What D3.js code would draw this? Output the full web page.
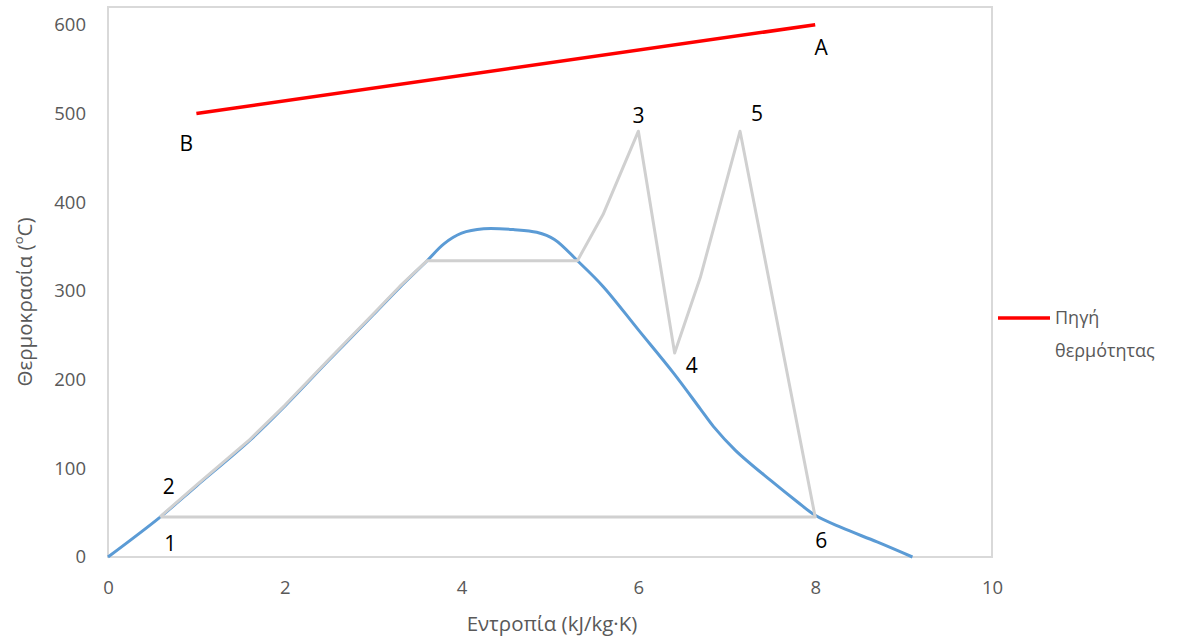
<!DOCTYPE html>
<html>
<head>
<meta charset="utf-8">
<script src="https://cdn.jsdelivr.net/npm/d3@7"></script>
<style>
  body { margin: 0; background: #fff; }
  svg { display: block; }
</style>
</head>
<body>
<svg id="chart" width="1182" height="639"></svg>
<script>
// ---------- DATA ----------
const xTicks = [0, 2, 4, 6, 8, 10];
const yTicks = [0, 100, 200, 300, 400, 500, 600];

// Saturation dome (blue)
const domeS = [0, 0.59, 1.0, 1.61, 2.0, 2.5, 3.0, 3.3, 3.61, 3.8, 4.0, 4.25, 4.6, 4.85, 5.05, 5.31, 5.6, 6.0, 6.4, 6.7, 6.85, 7.1, 7.5, 7.8, 8.0, 8.3, 8.7, 9.1];
const domeT = [0, 45, 80, 132, 170, 222, 273, 304, 334, 353, 365, 370, 369, 366, 358, 334, 305, 256, 207, 167, 147, 120, 86, 62, 47, 33, 17, 0];

// Cycle (gray)
const cycleS = [0.59, 0.62, 1.0, 1.61, 2.0, 2.5, 3.0, 3.3, 3.61, 5.31, 5.6, 6.0, 6.41, 6.70, 7.15, 8.0, 0.59];
const cycleT = [45, 48, 81, 133, 171, 223, 274, 305, 334, 334, 386, 480, 230, 315, 480, 45, 45];

// Heat source (red)
const sourceS = [1, 8];
const sourceT = [500, 600];

// State point labels
const stateNames = ["1", "2", "3", "4", "5", "6", "A", "B"];
const stateS = [0.59, 0.62, 6.0, 6.41, 7.15, 8.0, 8, 1];
const stateT = [45, 50, 480, 230, 480, 45, 600, 500];

const legendLabel = ["Πηγή", "θερμότητας"];
const xTitle = "Εντροπία (kJ/kg·K)";
const yTitle = "Θερμοκρασία (";

// ---------- LAYOUT ----------
const svg = d3.select("#chart");
const pLeft = 108, pRight = 992, pTop = 7, pBottom = 557;
const x = d3.scaleLinear().domain([0, 10]).range([pLeft, pRight]);
const y = d3.scaleLinear().domain([0, 620]).range([pBottom, pTop]);
const font = "'Open Sans', 'Noto Sans', sans-serif";
const grayText = "#595959";

// plot area border
svg.append("rect")
  .attr("x", pLeft).attr("y", pTop)
  .attr("width", pRight - pLeft).attr("height", pBottom - pTop)
  .attr("fill", "none").attr("stroke", "#D9D9D9").attr("stroke-width", 2);

// axes (labels only)
const xAxis = d3.axisBottom(x).tickValues(xTicks).tickSize(0).tickPadding(24);
const gx = svg.append("g").attr("transform", `translate(0,${pBottom})`).call(xAxis);
gx.select(".domain").remove();
gx.selectAll("text").attr("font-family", font).attr("font-size", 18.5).attr("fill", grayText);

const yAxis = d3.axisLeft(y).tickValues(yTicks).tickSize(0).tickPadding(22);
const gy = svg.append("g").attr("transform", `translate(${pLeft},0)`).call(yAxis);
gy.select(".domain").remove();
gy.selectAll("text").attr("font-family", font).attr("font-size", 18.5).attr("fill", grayText);

// axis titles
svg.append("text")
  .attr("x", 552).attr("y", 631)
  .attr("text-anchor", "middle")
  .attr("font-family", font).attr("font-size", 20.5).attr("fill", grayText)
  .text(xTitle);

const yt = svg.append("text")
  .attr("transform", "translate(32,302) rotate(-90)")
  .attr("text-anchor", "middle")
  .attr("font-family", font).attr("font-size", 20.5).attr("fill", grayText);
yt.append("tspan").text(yTitle);
yt.append("tspan").attr("baseline-shift", "super").attr("font-size", 13).text("o");
yt.append("tspan").text("C)");

// lines
const line = d3.line().x(d => x(d[0])).y(d => y(d[1]));
const smooth = d3.line().x(d => x(d[0])).y(d => y(d[1])).curve(d3.curveCatmullRom.alpha(0.5));

svg.append("path")
  .datum(domeS.map((s, i) => [s, domeT[i]]))
  .attr("d", smooth)
  .attr("fill", "none").attr("stroke", "#5B9BD5").attr("stroke-width", 3)
  .attr("stroke-linejoin", "round");

svg.append("path")
  .datum(cycleS.map((s, i) => [s, cycleT[i]]))
  .attr("d", line)
  .attr("fill", "none").attr("stroke", "#D0D0D0").attr("stroke-width", 3)
  .attr("stroke-linejoin", "round");

svg.append("path")
  .datum(sourceS.map((s, i) => [s, sourceT[i]]))
  .attr("d", line)
  .attr("fill", "none").attr("stroke", "#FF0000").attr("stroke-width", 3.5);

// state labels (pixel offsets relative to the point)
const offsets = {
  "1": [10, 34], "2": [6, -19], "3": [0, -8], "4": [17, 20],
  "5": [17, -10], "6": [6, 31], "A": [6, 30], "B": [-10, 38]
};
svg.selectAll("text.state")
  .data(stateNames.map((n, i) => ({ n, s: stateS[i], t: stateT[i] })))
  .enter().append("text")
  .attr("class", "state")
  .attr("x", d => x(d.s) + offsets[d.n][0])
  .attr("y", d => y(d.t) + offsets[d.n][1])
  .attr("text-anchor", "middle")
  .attr("font-family", font).attr("font-size", 21).attr("fill", "#000")
  .text(d => d.n);

// legend
svg.append("line")
  .attr("x1", 998).attr("x2", 1050).attr("y1", 318).attr("y2", 318)
  .attr("stroke", "#FF0000").attr("stroke-width", 3.5);
svg.selectAll("text.leg")
  .data(legendLabel)
  .enter().append("text")
  .attr("class", "leg")
  .attr("x", 1055)
  .attr("y", (d, i) => 324 + i * 33)
  .attr("font-family", font).attr("font-size", 18).attr("fill", grayText)
  .text(d => d);
</script>
</body>
</html>
